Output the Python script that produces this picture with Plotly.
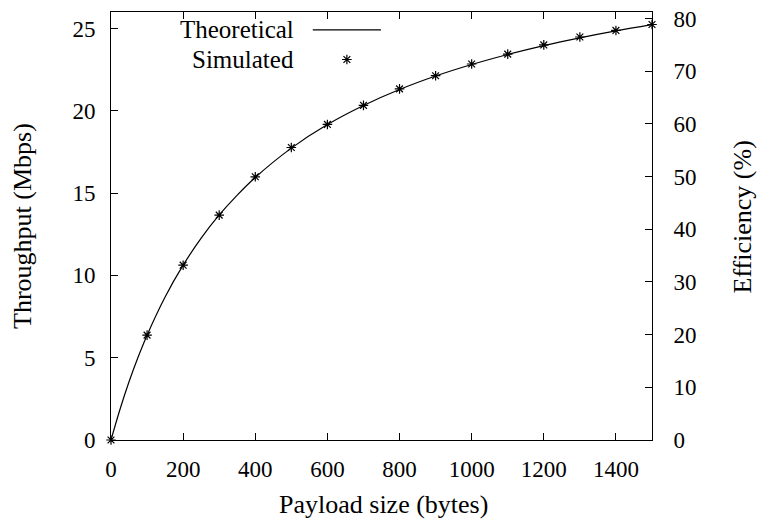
import plotly.graph_objects as go

# Data
theo_x = [0, 25, 50, 75, 100, 150, 200, 250, 300, 350, 400, 500, 600, 700, 800, 900, 1000, 1100, 1200, 1300, 1400, 1500]
theo_y = [0, 1.87, 3.54, 5.03, 6.37, 8.69, 10.62, 12.26, 13.67, 14.88, 15.95, 17.73, 19.16, 20.32, 21.29, 22.11, 22.81, 23.42, 23.96, 24.43, 24.85, 25.23]

sim_x = [0, 100, 200, 300, 400, 500, 600, 700, 800, 900, 1000, 1100, 1200, 1300, 1400, 1500]
sim_y = [0, 6.37, 10.62, 13.66, 15.99, 17.77, 19.17, 20.33, 21.33, 22.13, 22.84, 23.44, 24.0, 24.48, 24.88, 25.24]

x_ticks = [0, 200, 400, 600, 800, 1000, 1200, 1400]
y_ticks = [0, 5, 10, 15, 20, 25]
y2_ticks = [0, 10, 20, 30, 40, 50, 60, 70, 80]

FONT = "Liberation Serif"
FS_TICK = 23
FS_TEXT = 26
FS_LEG = 25

fig = go.Figure()
fig.add_trace(go.Scatter(x=theo_x, y=theo_y, mode="lines", line=dict(color="black", width=1.2, shape="spline"),
                         showlegend=False, name="Theoretical"))
fig.add_trace(go.Scatter(x=sim_x, y=sim_y, mode="markers",
                         marker=dict(symbol="asterisk-open", size=8, line=dict(color="black", width=1.2), color="black"),
                         showlegend=False, name="Simulated", cliponaxis=False))
# dummy trace to activate the right axis
fig.add_trace(go.Scatter(x=[None], y=[None], yaxis="y2", showlegend=False))
# legend sample marker on hidden axes
fig.add_trace(go.Scatter(x=[0.436], y=[0.889], xaxis="x3", yaxis="y3", mode="markers",
                         marker=dict(symbol="asterisk-open", size=8, color="black",
                                     line=dict(color="black", width=1.2)),
                         showlegend=False, hoverinfo="skip"))

axis_common = dict(showgrid=False, zeroline=False, showline=True, linecolor="black", linewidth=1,
                   ticks="inside", ticklen=7, tickcolor="black", tickwidth=1,
                   tickfont=dict(family=FONT, size=FS_TICK, color="black"))

fig.update_layout(
    width=757, height=522,
    margin=dict(l=111, r=105, t=7, b=82),
    paper_bgcolor="white", plot_bgcolor="white",
    font=dict(family=FONT, size=FS_TEXT, color="black"),
    xaxis=dict(range=[0, 1500], tickvals=x_ticks, mirror="ticks", ticklabelstandoff=8, **axis_common),
    yaxis=dict(range=[0, 26], tickvals=y_ticks, ticklabelstandoff=10, **axis_common),
    yaxis2=dict(range=[0, 81.25], tickvals=y2_ticks, overlaying="y", side="right", ticklabelstandoff=16, **axis_common),
    xaxis3=dict(range=[0, 1], domain=[0, 1], visible=False, overlaying="x"),
    yaxis3=dict(range=[0, 1], domain=[0, 1], visible=False, overlaying="y"),
    showlegend=False,
)

fig.update_layout(
    annotations=[
        dict(text="Throughput (Mbps)", xref="paper", yref="paper", x=-0.1645, y=0.5, textangle=-90,
             showarrow=False, font=dict(family=FONT, size=FS_TEXT), xanchor="center", yanchor="middle"),
        dict(text="Efficiency (%)", xref="paper", yref="paper", x=1.1664, y=0.52, textangle=-90,
             showarrow=False, font=dict(family=FONT, size=FS_TEXT), xanchor="center", yanchor="middle"),
        dict(text="Payload size (bytes)", xref="paper", yref="paper", x=0.503, y=-0.150,
             showarrow=False, font=dict(family=FONT, size=FS_TEXT), xanchor="center", yanchor="middle"),
        dict(text="Theoretical", xref="paper", yref="paper", x=0.342, y=0.9584,
             showarrow=False, font=dict(family=FONT, size=FS_LEG), xanchor="right", yanchor="middle"),
        dict(text="Simulated", xref="paper", yref="paper", x=0.342, y=0.889,
             showarrow=False, font=dict(family=FONT, size=FS_LEG), xanchor="right", yanchor="middle"),
    ],
    shapes=[
        dict(type="line", xref="paper", yref="paper", x0=0.373, x1=0.499, y0=0.9584, y1=0.9584,
             line=dict(color="black", width=1.2)),
    ],
)

fig.write_html("out.html", config={"displayModeBar": False},
               post_script="document.body.style.margin='0';document.body.style.overflow='hidden';")
